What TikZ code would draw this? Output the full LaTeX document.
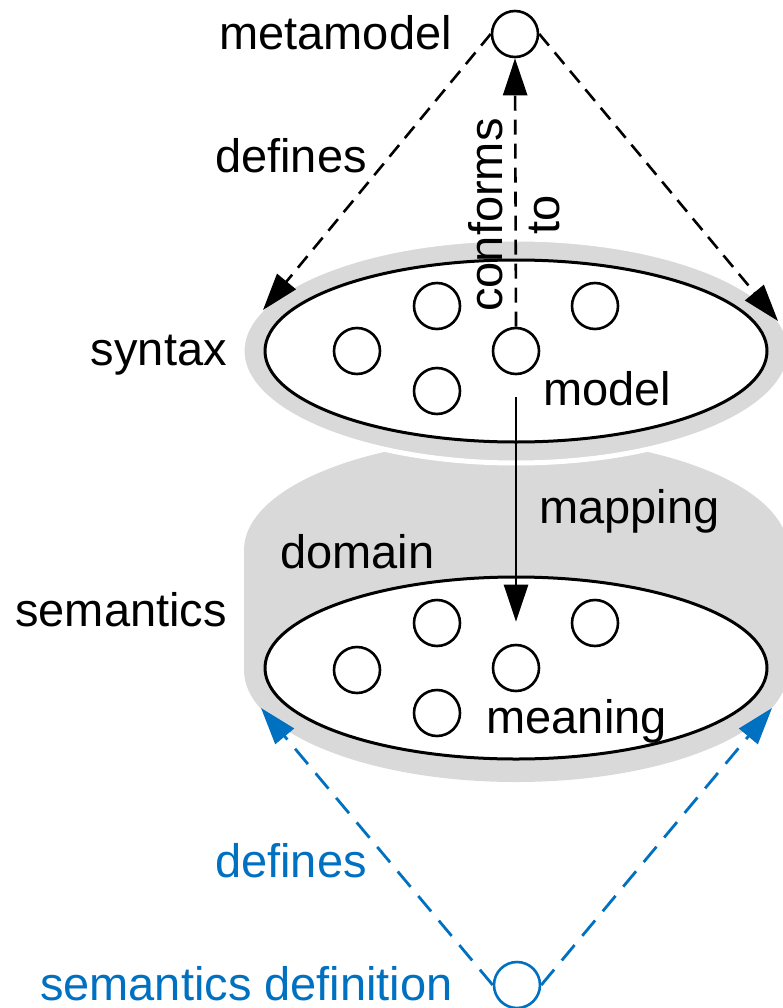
\documentclass[tikz,border=0pt]{standalone}
\usepackage{fontspec}
\setmainfont{Liberation Sans}
\usetikzlibrary{arrows.meta,shapes.geometric}
\definecolor{lgray}{HTML}{D9D9D9}
\definecolor{dblue}{HTML}{0070C0}
\begin{document}
\begin{tikzpicture}[x=1pt,y=-1pt,
  lbl/.style={font=\fontsize{47}{57}\selectfont, inner sep=0pt},
  elem/.style={circle, draw, line width=2.6pt, minimum size=46pt, inner sep=0pt, fill=white},
  plane/.style={ellipse, draw, line width=3pt, fill=white, minimum width=502pt, minimum height=182pt, inner sep=0pt},
  depline/.style={line width=2.6pt, dash pattern=on 15pt off 9pt, -{Triangle[length=37pt,width=24pt]}},
  semline/.style={dblue, line width=2.8pt, dash pattern=on 20pt off 12pt, -{Triangle[length=37pt,width=24pt]}},
  maparrow/.style={line width=2.6pt, -{Triangle[length=37pt,width=24pt]}}]
\useasboundingbox (0,0) rectangle (782,1008);
% semantics domain (gray cylinder)
\fill[lgray] (516,670) ellipse [x radius=272, y radius=112];
\fill[lgray] (516,550) ellipse [x radius=272, y radius=112];
\fill[lgray] (244,550) rectangle (788,670);
% syntax gray ring
\filldraw[fill=lgray, draw=white, line width=5pt] (516,351) ellipse [x radius=274, y radius=112];
% planes
\node[plane] (synplane) at (516,351) {};
\node[plane] (semplane) at (516,668) {};
% arrow tip coordinates on the gray rings
\coordinate (tipL) at (263,310);
\coordinate (tipR) at (778,321);
\coordinate (btipL) at (261,708);
\coordinate (btipR) at (772,708);
% syntax elements
\node[elem] (s1) at (357,351) {};
\node[elem] (s2) at (437,306) {};
\node[elem] (s3) at (437,391) {};
\node[elem] (s5) at (595,306) {};
% semantics elements
\node[elem] (m1) at (357,670) {};
\node[elem] (m2) at (437,623) {};
\node[elem] (m3) at (437,713) {};
\node[elem] (m4) at (516,668) {};
\node[elem] (m5) at (595,623) {};
% metamodel and semantics definition
\node[elem, draw=none, fill=none] (mm) at (515,34) {};
\node[elem, draw=none, fill=none] (sd) at (517,985) {};
\draw[depline] (mm.west) -- (tipL);
\draw[depline] (mm.east) -- (tipR);
\draw[semline] (sd.west) -- (btipL);
\draw[semline] (sd.east) -- (btipR);
\node[elem] (mmc) at (515,34) {};
\node[elem, draw=dblue] (sdc) at (517,985) {};
% model element
\node[elem] (s4) at (516,351) {};
% conforms to
\draw[depline] (s4.north) -- (mmc.south);
% mapping
\draw[maparrow, shorten <=22pt, shorten >=22pt] (s4.south) -- (m4.north);
% labels
\node[lbl, anchor=base east] (lmm) at (452,50) {metamodel};
\node[lbl, anchor=base west] (ldef) at (215,173) {defines};
\node[lbl, rotate=90, align=center] (lconf) at (514,215) {conforms\\to};
\node[lbl, anchor=base east] (lsyn) at (227,365) {syntax};
\node[lbl, anchor=base west] (lmodel) at (543,405) {model};
\node[lbl, anchor=base west] (lmap) at (539,523) {mapping};
\node[lbl, anchor=base west] (ldom) at (280,568) {domain};
\node[lbl, anchor=base east] (lsem) at (227,626) {semantics};
\node[lbl, anchor=base east] (lmean) at (667,733) {meaning};
\node[lbl, anchor=base west, text=dblue] (lbdef) at (215,877) {defines};
\node[lbl, anchor=base east, text=dblue] (lsd) at (453,1000) {semantics definition};
\end{tikzpicture}
\end{document}
